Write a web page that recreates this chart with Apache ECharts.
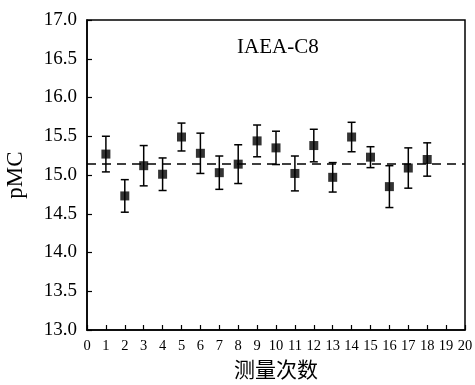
<!DOCTYPE html>
<html>
<head>
<meta charset="utf-8">
<script src="https://cdn.jsdelivr.net/npm/echarts@6/dist/echarts.min.js"></script>
<style>
  html, body { margin: 0; padding: 0; background: #fff; }
  #chart { width: 475px; height: 385px; }
</style>
</head>
<body>
<div id="chart"></div>
<script>
// 测量次数 / pMC / 误差
var runs = [1, 2, 3, 4, 5, 6, 7, 8, 9, 10, 11, 12, 13, 14, 15, 16, 17, 18];
var pmc = [15.27, 14.73, 15.12, 15.01, 15.49, 15.28, 15.03, 15.14, 15.44, 15.35,
           15.02, 15.38, 14.97, 15.49, 15.23, 14.85, 15.09, 15.20];
var err = [0.23, 0.21, 0.26, 0.21, 0.18, 0.26, 0.215, 0.25, 0.205, 0.215,
           0.225, 0.21, 0.19, 0.19, 0.135, 0.27, 0.26, 0.215];
var meanValue = 15.14;
var titleText = "IAEA-C8";

(function() {
  var myChart = echarts.init(document.getElementById("chart"));
  var serif = "Liberation Serif, Times New Roman, serif";

  var points = [];
  var bars = [];
  for (var i = 0; i < runs.length; i++) {
    points.push([runs[i], pmc[i]]);
    bars.push([runs[i], pmc[i] - err[i], pmc[i] + err[i]]);
  }

  var option = {
    animation: false,
    backgroundColor: "#fff",
    grid: {
      left: 87,
      right: 10,
      top: 20,
      bottom: 55,
      outerBoundsMode: "none",
      show: true,
      borderColor: "#000",
      borderWidth: 1.5
    },
    title: {
      text: titleText,
      left: 232,
      top: 32,
      textStyle: { fontFamily: serif, fontWeight: "normal", fontSize: 21, color: "#000" }
    },
    xAxis: {
      type: "value",
      min: 0,
      max: 20,
      interval: 1,
      name: "测量次数",
      nameLocation: "middle",
      nameGap: 24,
      nameTextStyle: { fontFamily: "Noto Sans CJK SC", fontSize: 21, color: "#000" },
      axisLine: { lineStyle: { color: "#000", width: 1.5 } },
      axisTick: { inside: true, length: 5, lineStyle: { color: "#000", width: 1.2 } },
      axisLabel: { fontFamily: serif, fontSize: 14.5, color: "#000", margin: 9 },
      splitLine: { show: false }
    },
    yAxis: {
      type: "value",
      min: 13,
      max: 17,
      interval: 0.5,
      name: "pMC",
      nameLocation: "middle",
      nameGap: 60,
      nameTextStyle: { fontFamily: serif, fontSize: 23, color: "#000" },
      axisLine: { lineStyle: { color: "#000", width: 1.5 } },
      axisTick: { inside: true, length: 5, lineStyle: { color: "#000", width: 1.2 } },
      axisLabel: {
        fontFamily: serif,
        fontSize: 19,
        color: "#000",
        margin: 10,
        formatter: function(v) { return v.toFixed(1); }
      },
      splitLine: { show: false }
    },
    series: [
      {
        type: "custom",
        data: bars,
        z: 2,
        renderItem: function(params, api) {
          var x = api.value(0);
          var lo = api.coord([x, api.value(1)]);
          var hi = api.coord([x, api.value(2)]);
          var w = 4;
          var style = { stroke: "#000", lineWidth: 1.5 };
          return {
            type: "group",
            children: [
              { type: "line", shape: { x1: lo[0], y1: lo[1], x2: hi[0], y2: hi[1] }, style: style },
              { type: "line", shape: { x1: lo[0] - w, y1: lo[1], x2: lo[0] + w, y2: lo[1] }, style: style },
              { type: "line", shape: { x1: hi[0] - w, y1: hi[1], x2: hi[0] + w, y2: hi[1] }, style: style }
            ]
          };
        }
      },
      {
        type: "scatter",
        data: points,
        symbol: "rect",
        symbolSize: 9,
        z: 3,
        itemStyle: { color: "#000" },
        markLine: {
          silent: true,
          symbol: "none",
          label: { show: false },
          lineStyle: { color: "#000", type: [9, 6], width: 1.5 },
          data: [{ yAxis: meanValue }]
        }
      }
    ]
  };

  myChart.setOption(option);
})();
</script>
</body>
</html>
